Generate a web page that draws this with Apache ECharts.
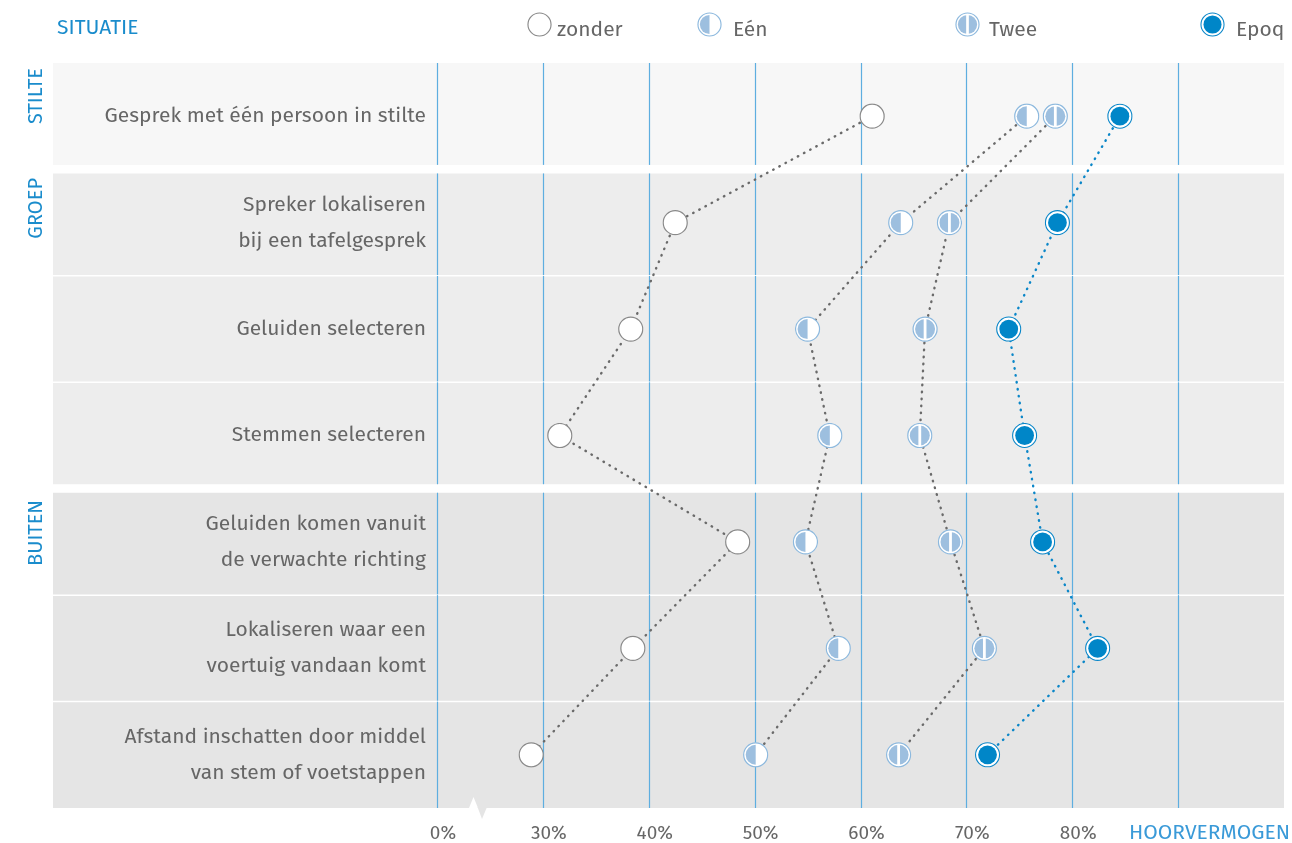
<!DOCTYPE html>
<html><head><meta charset="utf-8">
<script src="https://cdn.jsdelivr.net/npm/echarts@6/dist/echarts.min.js"></script>
<style>html,body{margin:0;padding:0;background:#fff}#c{width:1292px;height:843px}</style>
</head><body><div id="c"></div>
<script>
var categories = ['Gesprek met één persoon in stilte', 'Spreker lokaliseren\nbij een tafelgesprek', 'Geluiden selecteren', 'Stemmen selecteren', 'Geluiden komen vanuit\nde verwachte richting', 'Lokaliseren waar een\nvoertuig vandaan komt', 'Afstand inschatten door middel\nvan stem of voetstappen'];
var groupNames = ['STILTE', 'GROEP', 'BUITEN'];
var groupOf = [0, 1, 1, 1, 2, 2, 2];
var seriesNames = ['zonder', 'Eén', 'Twee', 'Epoq'];
var zonder = [61.1, 42.5, 38.3, 31.6, 48.4, 38.5, 28.9];
var een = [75.7, 63.8, 55.0, 57.1, 54.8, 57.9, 50.1];
var twee = [78.4, 68.4, 66.1, 65.6, 68.5, 71.7, 63.6];
var epoq = [84.5, 78.6, 74.0, 75.5, 77.2, 82.4, 72.0];
var tickValues = [20, 30, 40, 50, 60, 70, 80, 90];

var FONT = '"Fira Sans","Noto Sans","Open Sans",sans-serif';
var BLUE = '#1a8ccc';
var GRAY = '#666666';

function uri(svg){ return 'image://data:image/svg+xml;charset=utf-8,' + encodeURIComponent(svg); }
var symZonder = uri("<svg xmlns='http://www.w3.org/2000/svg' width='26' height='26' viewBox='0 0 26 26'><circle cx='13' cy='13' r='12' fill='#ffffff' stroke='#8a8a8a' stroke-width='1.2'/></svg>");
var symEen = uri("<svg xmlns='http://www.w3.org/2000/svg' width='26' height='26' viewBox='0 0 26 26'><circle cx='13' cy='13' r='12' fill='#ffffff' stroke='#8db9de' stroke-width='1.2'/><path d='M13 3 A10 10 0 0 0 13 23 Z' fill='#9dbfdf'/></svg>");
var symTwee = uri("<svg xmlns='http://www.w3.org/2000/svg' width='26' height='26' viewBox='0 0 26 26'><circle cx='13' cy='13' r='12' fill='#ffffff' stroke='#8db9de' stroke-width='1.2'/><circle cx='13' cy='13' r='10' fill='#9dbfdf'/><rect x='11.6' y='2.5' width='2.8' height='21' fill='#ffffff'/></svg>");
var symEpoq = uri("<svg xmlns='http://www.w3.org/2000/svg' width='26' height='26' viewBox='0 0 26 26'><circle cx='13' cy='13' r='12' fill='#ffffff' stroke='#0a86c8' stroke-width='1.1'/><circle cx='13' cy='13' r='9.4' fill='#0086c8'/></svg>");
var syms = [symZonder, symEen, symTwee, symEpoq];
var lineColors = ['#6a6a6a', '#6a6a6a', '#6a6a6a', '#0a86c8'];
var values = [zonder, een, twee, epoq];

var chart = echarts.init(document.getElementById('c'), null, {renderer: 'canvas'});
var bandColors = ['#f7f7f7', '#ededed', '#e5e5e5'];

function renderBand(params, api) {
  var idx = api.value(1);
  var c = api.coord([20, idx]);
  var h = api.size([0, 1])[1];
  var right = api.coord([100, idx])[0];
  var left = 53;
  var g = groupOf[idx];
  var first = idx === 0 || groupOf[idx - 1] !== g;
  var last = idx === categories.length - 1 || groupOf[idx + 1] !== g;
  var top = c[1] - h / 2 + (first && idx > 0 ? 4 : 0);
  var bottom = c[1] + h / 2 - (last && idx < categories.length - 1 ? 4.5 : 0);
  var children = [{type: 'rect', shape: {x: left, y: top, width: right - left, height: bottom - top}, style: {fill: bandColors[g]}}];
  if (!first) {
    children.push({type: 'line', shape: {x1: left, y1: top, x2: right, y2: top}, style: {stroke: '#ffffff', lineWidth: 1.5}});
  }
  tickValues.forEach(function (t) {
    var x = Math.round(api.coord([t, idx])[0]) + 0.5;
    children.push({type: 'line', shape: {x1: x, y1: top, x2: x, y2: bottom}, style: {stroke: '#5eaee0', lineWidth: 1.2}});
  });
  return {type: 'group', children: children};
}

var series = [{
  type: 'custom', name: 'bg', silent: true, z: 0, clip: false,
  renderItem: renderBand,
  data: categories.map(function (c, i) { return [20, i]; }),
  encode: {x: 0, y: 1}
}];
seriesNames.forEach(function (n, k) {
  series.push({
    type: 'line', name: n, z: 3 + k,
    data: values[k],
    symbol: syms[k], symbolSize: 26,
    lineStyle: {color: lineColors[k], width: 2.4, type: [0.5, 6.5], cap: 'round'},
    itemStyle: {color: lineColors[k]},
    emphasis: {disabled: true},
    animation: false
  });
});

var legendLeft = [527, 697, 955, 1200];
var legendPad = [0, 6, 4, 6];
var legends = seriesNames.map(function (n, k) {
  return {
    left: legendLeft[k], top: 12, padding: 0, itemWidth: 25, itemHeight: 25, selectedMode: false,
    data: [{name: n, icon: syms[k]}],
    formatter: '{t|{name}}',
    textStyle: {color: GRAY, fontSize: 21, fontFamily: FONT,
      rich: {t: {color: GRAY, fontSize: 21, fontFamily: FONT, padding: [12, 0, 0, legendPad[k]]}}}
  };
});

var groupTops = [68, 178, 500];
var graphics = groupNames.map(function (t, i) {
  return {type: 'text', x: 36, y: groupTops[i], rotation: Math.PI / 2,
    style: {text: t, fill: BLUE, font: '20px ' + FONT, align: 'right', verticalAlign: 'middle'}};
});
graphics.push({type: 'polygon', shape: {points: [[469, 808], [473.5, 797], [478, 808]]}, style: {fill: '#ffffff'}, z: 100});
graphics.push({type: 'polygon', shape: {points: [[477.5, 807], [482, 819], [487, 807]]}, style: {fill: '#e5e5e5'}, z: 100});

chart.setOption({
  animation: false,
  backgroundColor: '#ffffff',
  title: [
    {text: 'SITUATIE', left: 57, top: 18, padding: 0, textStyle: {color: BLUE, fontSize: 21, fontWeight: 'normal', fontFamily: FONT}},
    {text: 'HOORVERMOGEN', right: 2, top: 823, padding: 0, textStyle: {color: '#3a9ad8', fontSize: 21, fontWeight: 'normal', fontFamily: FONT}}
  ],
  legend: legends,
  grid: {left: 437, right: 8, top: 63, bottom: 35, containLabel: false},
  xAxis: {
    type: 'value', min: 20, max: 100, interval: 10,
    splitLine: {show: false}, axisLine: {show: false}, axisTick: {show: false},
    axisLabel: {margin: 16, color: GRAY, fontSize: 19, fontFamily: FONT, padding: [0, 0, 0, 12],
      formatter: function (v) { return v === 20 ? '0%' : (v >= 90 ? '' : v + '%'); }}
  },
  yAxis: {
    type: 'category', inverse: true, data: categories,
    axisLine: {show: false}, axisTick: {show: false}, splitLine: {show: false},
    axisLabel: {margin: 11, color: GRAY, fontSize: 21, fontFamily: FONT, lineHeight: 36}
  },
  graphic: graphics,
  series: series
});
</script></body></html>
